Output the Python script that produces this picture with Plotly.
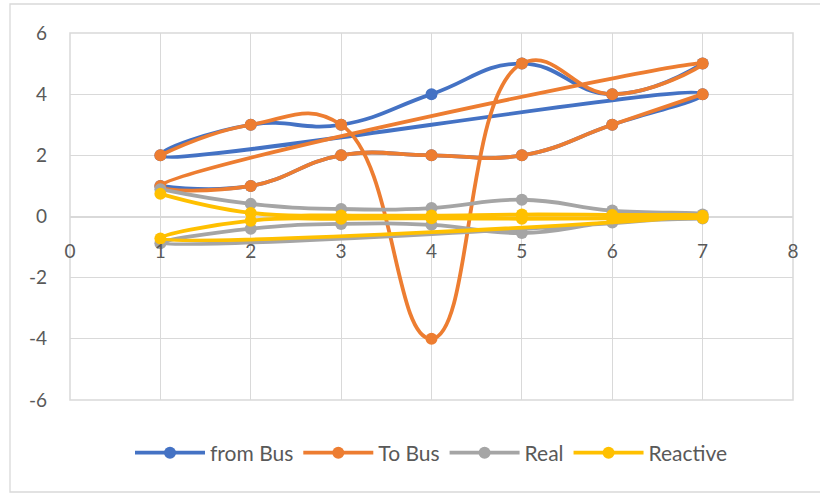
import plotly.graph_objects as go

# Row positions (7 lines forward, then 7 lines reversed)
x_vals = [1, 2, 3, 4, 5, 6, 7, 1, 2, 3, 4, 5, 6, 7]

from_bus = [1, 1, 2, 2, 2, 3, 4, 2, 3, 3, 4, 5, 4, 5]
to_bus = [2, 3, 3, -4, 5, 4, 5, 1, 1, 2, 2, 2, 3, 4]
real = [0.893, 0.413, 0.245, 0.277, 0.548, 0.194, 0.066,
        -0.875, -0.399, -0.243, -0.274, -0.539, -0.193, -0.065]
reactive = [0.74, 0.118, 0.035, 0.029, 0.064, 0.052, 0.028,
            -0.717, -0.138, -0.073, -0.059, -0.074, -0.057, -0.052]

x_ticks = [0, 1, 2, 3, 4, 5, 6, 7, 8]
y_ticks = [-6, -4, -2, 0, 2, 4, 6]
y_tick_labels = ["-6", "-4", "-2", "0", "2", "4", "6"]

series = [
    ("from Bus", from_bus, "#4472C4"),
    ("To Bus", to_bus, "#ED7D31"),
    ("Real", real, "#A5A5A5"),
    ("Reactive", reactive, "#FFC000"),
]

fig = go.Figure()
for name, ys, col in series:
    fig.add_trace(go.Scatter(
        x=x_vals, y=ys, name=name, mode="lines+markers",
        line=dict(color=col, width=3.8, shape="spline", smoothing=1.3),
        marker=dict(color=col, size=12),
    ))

W, H = 820, 493
L, R, T, B = 70, 27, 33, 93
pw, ph = W - L - R, H - T - B

def px_to_paper_x(px):
    return (px - L) / pw

def px_to_paper_y(py):
    return (H - B - py) / ph

# outer chart border
fig.add_shape(type="rect", xref="paper", yref="paper",
              x0=px_to_paper_x(10), x1=px_to_paper_x(830),
              y0=px_to_paper_y(492), y1=px_to_paper_y(4),
              line=dict(color="#D9D9D9", width=1.3), layer="below")
# plot-area frame (gridlines at range edges)
fig.add_shape(type="rect", xref="paper", yref="paper",
              x0=0, x1=1, y0=0, y1=1,
              line=dict(color="#D9D9D9", width=1.5), layer="below")

fig.update_layout(
    width=W, height=H,
    margin=dict(l=L, r=R, t=T, b=B),
    paper_bgcolor="white", plot_bgcolor="white",
    font=dict(family="Lato, Open Sans, sans-serif", size=18, color="#595959"),
    showlegend=True,
    legend=dict(orientation="h", x=0.5, xanchor="center",
                y=px_to_paper_y(453), yanchor="middle",
                font=dict(size=21, color="#595959"),
                itemwidth=70, tracegroupgap=0),
    xaxis=dict(range=[0, 8], tickvals=x_ticks, showgrid=True,
               gridcolor="#D9D9D9", gridwidth=1.3,
               zeroline=False, showline=False,
               anchor="free", position=0.5,
               ticks="", ticklabelstandoff=21,
               tickfont=dict(size=19, color="#595959"),
               fixedrange=True),
    yaxis=dict(range=[-6, 6], tickvals=y_ticks, ticktext=y_tick_labels,
               showgrid=True, gridcolor="#D9D9D9", gridwidth=1.3,
               zeroline=True, zerolinecolor="#D9D9D9", zerolinewidth=1.5,
               showline=False, ticks="", ticklabelstandoff=22,
               tickfont=dict(size=19, color="#595959"),
               fixedrange=True),
)

fig.write_html("out.html")
